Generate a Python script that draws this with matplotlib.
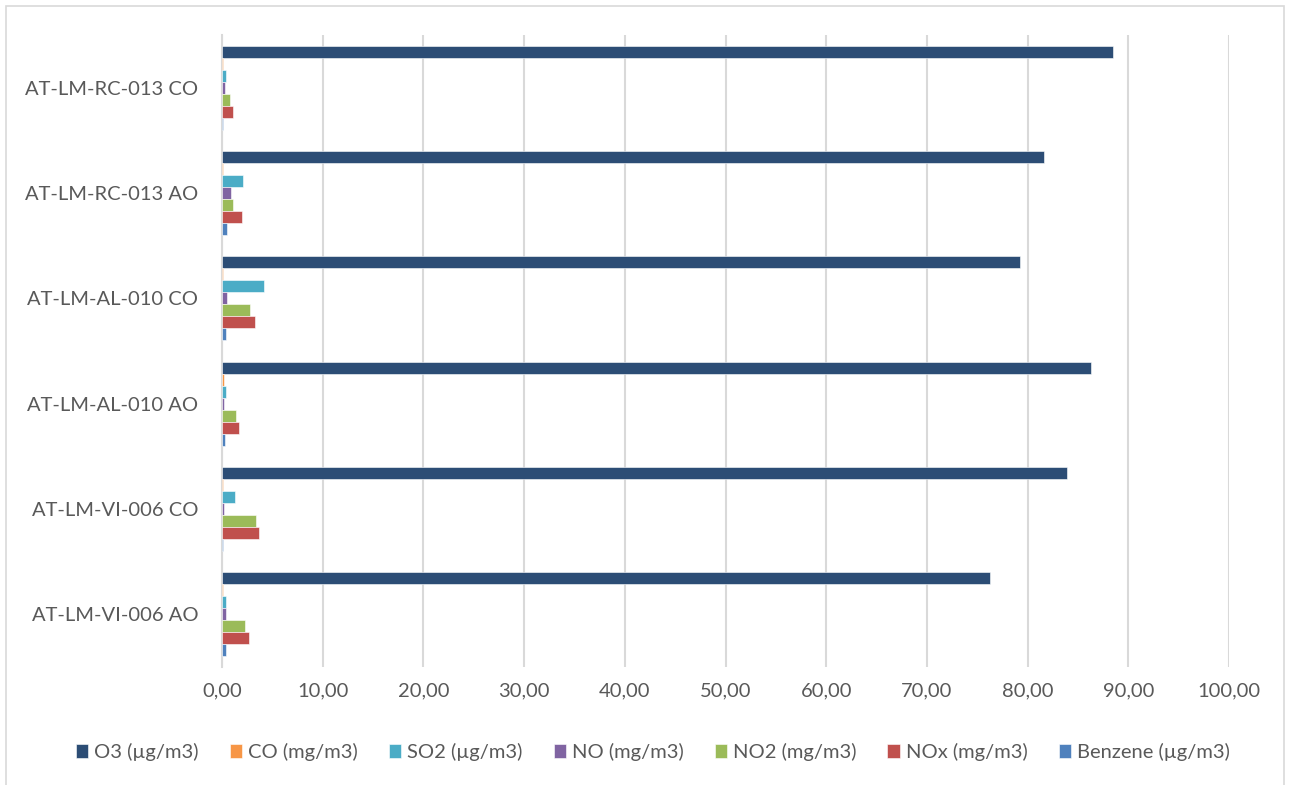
import matplotlib.pyplot as plt
from matplotlib.patches import Rectangle
from matplotlib.ticker import FuncFormatter
import numpy as np

plt.rcParams["font.family"] = ["Lato", "DejaVu Sans"]

categories = [
    "AT-LM-RC-013 CO",
    "AT-LM-RC-013 AO",
    "AT-LM-AL-010 CO",
    "AT-LM-AL-010 AO",
    "AT-LM-VI-006 CO",
    "AT-LM-VI-006 AO",
]

series_names = [
    "O3 (µg/m3)",
    "CO (mg/m3)",
    "SO2 (µg/m3)",
    "NO (mg/m3)",
    "NO2 (mg/m3)",
    "NOx (mg/m3)",
    "Benzene (µg/m3)",
]

o3 = [88.5, 81.6, 79.2, 86.3, 83.9, 76.3]
co = [0.10, 0.05, 0.08, 0.15, 0.05, 0.12]
so2 = [0.40, 2.05, 4.13, 0.36, 1.32, 0.40]
no = [0.26, 0.86, 0.46, 0.23, 0.23, 0.36]
no2 = [0.82, 1.12, 2.74, 1.35, 3.34, 2.28]
nox = [1.12, 2.02, 3.24, 1.65, 3.63, 2.68]
benzene = [0.10, 0.46, 0.36, 0.30, 0.10, 0.43]

series_values = [o3, co, so2, no, no2, nox, benzene]
colors = ["#2C4D75", "#F79646", "#4BACC6", "#8064A2", "#9BBB59", "#C0504D", "#4F81BD"]

fig = plt.figure(figsize=(12.9, 7.85), dpi=100)
ax = fig.add_axes([222 / 1290, 1 - 666.6 / 785, 1007 / 1290, (666.6 - 35.4) / 785])

fig.patches.append(
    Rectangle((6 / 1290, -0.01), 1278 / 1290, 1 - 6 / 785 + 0.01,
              transform=fig.transFigure, fill=False, edgecolor="#D9D9D9", linewidth=1.2)
)

y = np.arange(len(categories))
h = 0.8 / len(series_names)
for j, (name, vals, col) in enumerate(zip(series_names, series_values, colors)):
    offset = (j - (len(series_names) - 1) / 2) * h
    ax.barh(y + offset, vals, height=h, color=col, label=name,
            edgecolor="white", linewidth=0.4, zorder=3)

ax.set_xlim(0, 100)
ax.set_ylim(len(categories) - 0.5, -0.5)
ax.set_xticks(np.arange(0, 101, 10))
ax.xaxis.set_major_formatter(FuncFormatter(lambda v, p: f"{v:.2f}".replace(".", ",")))
ax.set_yticks(y)
ax.set_yticklabels(categories)

ax.grid(axis="x", color="#D9D9D9", linewidth=1.5, zorder=0)
ax.set_axisbelow(True)
for s in ["top", "right", "bottom"]:
    ax.spines[s].set_visible(False)
ax.spines["left"].set_color("#D9D9D9")
ax.spines["left"].set_linewidth(1.5)
ax.tick_params(axis="both", length=0, labelsize=14.5, labelcolor="#595959")
ax.tick_params(axis="x", pad=11)
ax.tick_params(axis="y", pad=17)

fig.legend(loc="center", bbox_to_anchor=(0.506, 1 - 752 / 785), ncol=7, frameon=False,
           fontsize=14.5, labelcolor="#595959", handlelength=0.6, handleheight=0.75,
           handletextpad=0.3, columnspacing=1.55)

fig.savefig("out.png", dpi=100)
